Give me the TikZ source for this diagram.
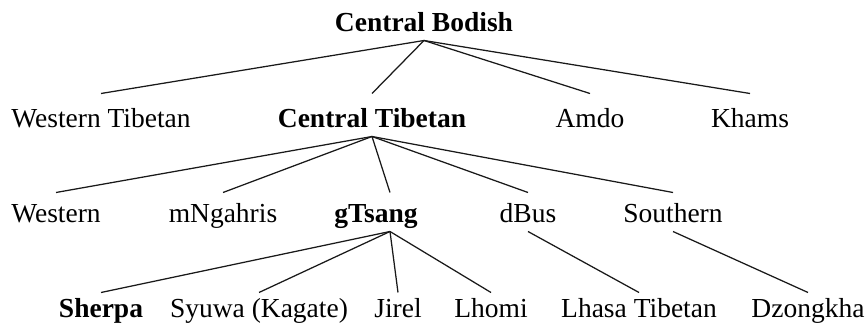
\documentclass[tikz,border=0pt]{standalone}
\usepackage{fontspec}
\setmainfont{Liberation Serif}
\usetikzlibrary{positioning}

\begin{document}
\begin{tikzpicture}[
            x=0.4pt, y=-0.4pt,
            every node/.style={font=\fontsize{11}{13}\selectfont},
            lang/.style={anchor=base, inner sep=1pt, text height=11pt, text depth=2.2pt},
            group/.style={lang, font=\fontsize{11}{13}\selectfont\bfseries},
            tall/.style={text height=12.6pt},
            low/.style={text height=9pt},
            branch/.style={line width=0.5pt, black!90}
        ]
        \useasboundingbox (0,0) rectangle (868,326);

        % root
        \node[group] (bodish) at (424,32) {Central Bodish};

        % first level
        \node[lang, tall] (wtib) at (101,128) {Western Tibetan};
        \node[group, tall] (ctib) at (372,128) {Central Tibetan};
        \node[lang, tall] (amdo) at (590,128) {Amdo};
        \node[lang, tall] (khams) at (750,128) {Khams};

        % second level
        \node[lang] (western) at (56,223) {Western};
        \node[lang] (ngahris) at (223,223) {mNgahris};
        \node[group] (tsang) at (376,223) {gTsang};
        \node[lang] (bus) at (528,223) {dBus};
        \node[lang] (southern) at (673,223) {Southern};

        % third level
        \node[group, low] (sherpa) at (101,318) {Sherpa};
        \node[lang, low] (syuwa) at (259,318) {Syuwa (Kagate)};
        \node[lang, low] (jirel) at (398,318) {Jirel};
        \node[lang, low] (lhomi) at (491,318) {Lhomi};
        \node[lang, low] (lhasa) at (639,318) {Lhasa Tibetan};
        \node[lang, low] (dzongkha) at (808,318) {Dzongkha};

        \draw[branch] (bodish.south) -- (wtib.north);
        \draw[branch] (bodish.south) -- (ctib.north);
        \draw[branch] (bodish.south) -- (amdo.north);
        \draw[branch] (bodish.south) -- (khams.north);
        \draw[branch] (ctib.south) -- (western.north);
        \draw[branch] (ctib.south) -- (ngahris.north);
        \draw[branch] (ctib.south) -- ([xshift=5.6pt]tsang.north);
        \draw[branch] (ctib.south) -- (bus.north);
        \draw[branch] (ctib.south) -- (southern.north);
        \draw[branch] ([xshift=5.6pt]tsang.south) -- (sherpa.north);
        \draw[branch] ([xshift=5.6pt]tsang.south) -- (syuwa.north);
        \draw[branch] ([xshift=5.6pt]tsang.south) -- (jirel.north);
        \draw[branch] ([xshift=5.6pt]tsang.south) -- (lhomi.north);
        \draw[branch] (bus.south) -- (lhasa.north);
        \draw[branch] (southern.south) -- (dzongkha.north);

        \end{tikzpicture}
\end{document}
